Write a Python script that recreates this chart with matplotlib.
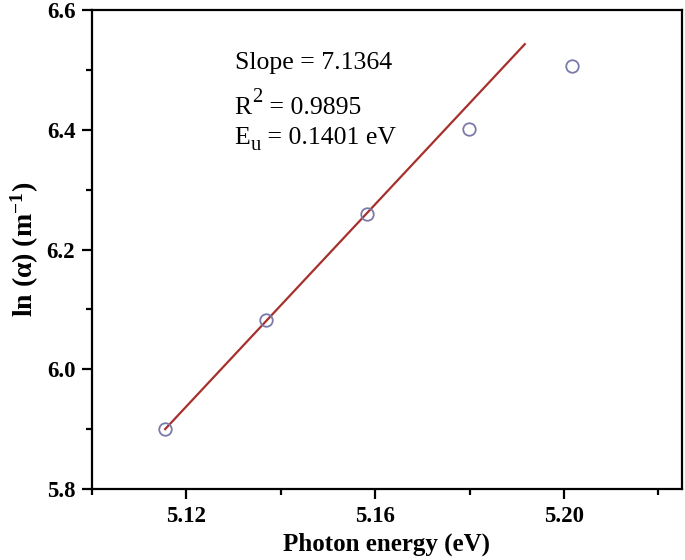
import matplotlib
matplotlib.use("Agg")
import matplotlib.pyplot as plt
import numpy as np
from matplotlib.ticker import MultipleLocator, FixedLocator, FormatStrFormatter
from matplotlib.transforms import offset_copy

plt.rcParams['font.family'] = ['Liberation Serif', 'DejaVu Serif']
plt.rcParams['mathtext.fontset'] = 'custom'
plt.rcParams['mathtext.rm'] = 'Liberation Serif'
plt.rcParams['mathtext.it'] = 'Liberation Serif:italic'
plt.rcParams['mathtext.bf'] = 'Liberation Serif:bold'
plt.rcParams['mathtext.default'] = 'regular'

# Data
photon_energy = [5.1155, 5.1368, 5.1582, 5.1799, 5.2018]
ln_alpha = [5.900, 6.083, 6.260, 6.401, 6.507]
fit_x = [5.1155, 5.1917]
fit_y = [5.900, 6.543]
slope_text = "Slope = 7.1364"
r2_parts = ("R", "2", " = 0.9895")
eu_parts = ("E", "u", " = 0.1401 eV")

fig = plt.figure(figsize=(6.85, 5.6), dpi=100)
ax = fig.add_axes([0.1343, 0.1268, 0.8613, 0.8553])

ax.plot(fit_x, fit_y, color='#a8302c', lw=1.6, zorder=2)
ax.plot(photon_energy, ln_alpha, linestyle='none', marker='o', markersize=9,
        markerfacecolor='none', markeredgecolor='#7a7aaa', markeredgewidth=1.3, zorder=3)

ax.set_xlim(5.10, 5.225)
ax.set_ylim(5.8, 6.6)
ax.xaxis.set_major_locator(FixedLocator([5.12, 5.16, 5.20]))
ax.xaxis.set_minor_locator(FixedLocator([5.10, 5.14, 5.18, 5.22]))
ax.yaxis.set_major_locator(MultipleLocator(0.2))
ax.yaxis.set_minor_locator(MultipleLocator(0.1))
ax.xaxis.set_major_formatter(FormatStrFormatter('%.2f'))
ax.yaxis.set_major_formatter(FormatStrFormatter('%.1f'))

for s in ax.spines.values():
    s.set_linewidth(1.6)
ax.tick_params(which='major', direction='out', length=7, width=1.6, labelsize=16.5, pad=5)
ax.tick_params(which='minor', direction='out', length=4.5, width=1.6)
ax.tick_params(top=False, right=False, which='both')
for lab in ax.get_xticklabels() + ax.get_yticklabels():
    lab.set_fontweight('bold')

ax.set_xlabel('Photon energy (eV)', fontsize=18, fontweight='bold', labelpad=4)
ax.set_ylabel(r'ln ($\mathbf{\alpha}$) (m$^{\mathbf{-1}}$)', fontsize=20, fontweight='bold', labelpad=4)

fs = 18.5
x0 = 5.1302
ax.text(x0, 6.502, slope_text, fontsize=fs, ha='left', va='baseline')

renderer = fig.canvas.get_renderer()

def script_text(x, y, base, script, rest, dy):
    t1 = ax.text(x, y, base, fontsize=fs, ha='left', va='baseline')
    w1 = t1.get_window_extent(renderer).width * 72 / fig.dpi
    tr2 = offset_copy(ax.transData, fig=fig, x=w1 + 0.5, y=dy, units='points')
    t2 = ax.text(x, y, script, fontsize=fs * 0.8, ha='left', va='baseline', transform=tr2)
    w2 = t2.get_window_extent(renderer).width * 72 / fig.dpi
    tr3 = offset_copy(ax.transData, fig=fig, x=w1 + w2 + 0.5, y=0, units='points')
    ax.text(x, y, rest, fontsize=fs, ha='left', va='baseline', transform=tr3)

script_text(x0, 6.427, *r2_parts, dy=8.5)
script_text(x0, 6.377, *eu_parts, dy=-4.5)

fig.savefig('out.png', dpi=100)
